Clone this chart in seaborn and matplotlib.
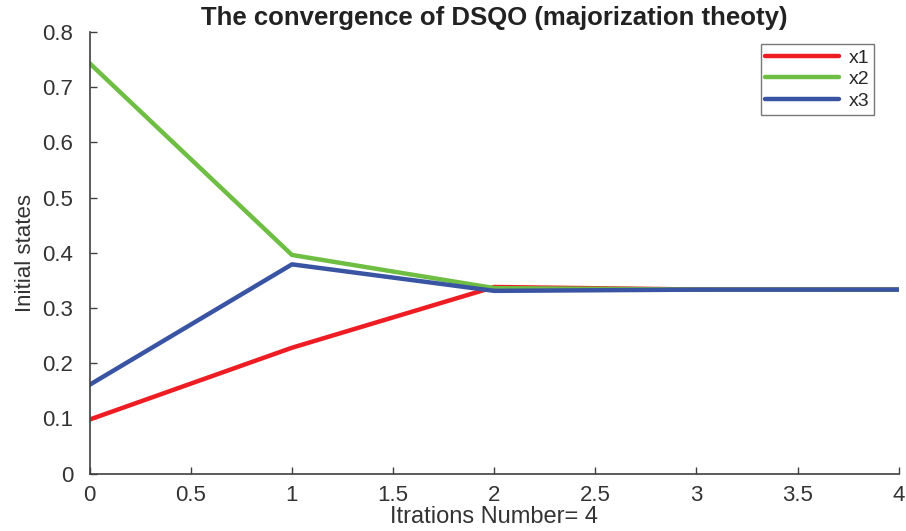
import numpy as np
import pandas as pd
import matplotlib
matplotlib.use('Agg')
import matplotlib.pyplot as plt
import seaborn as sns

# data
iterations = [0, 1, 2, 3, 4]
x1 = [0.098, 0.228, 0.338, 0.3335, 0.3333]
x2 = [0.743, 0.396, 0.336, 0.3333, 0.3333]
x3 = [0.161, 0.379, 0.331, 0.3332, 0.3333]
series_names = ['x1', 'x2', 'x3']
colors = ['#ee1d23', '#6ebe44', '#3a54a4']

df = pd.DataFrame({'iter': iterations, 'x1': x1, 'x2': x2, 'x3': x3})
df = df.melt(id_vars='iter', var_name='series', value_name='value')

sns.set_style('ticks')
plt.rcParams['font.family'] = ['Liberation Sans', 'DejaVu Sans']

fig, ax = plt.subplots(figsize=(9.06, 5.31), dpi=100)
fig.subplots_adjust(left=0.099, right=0.992, top=0.94, bottom=0.108)

sns.lineplot(data=df, x='iter', y='value', hue='series', hue_order=series_names,
             palette=colors, linewidth=3.2, ax=ax)

ax.set_xlim(0, 4)
ax.set_ylim(0, 0.8)
ax.set_xticks(np.arange(0, 4.01, 0.5))
ax.set_xticklabels(['0', '0.5', '1', '1.5', '2', '2.5', '3', '3.5', '4'])
ax.set_yticks(np.arange(0, 0.81, 0.1))
ax.set_yticklabels(['0', '0.1', '0.2', '0.3', '0.4', '0.5', '0.6', '0.7', '0.8'])
ax.tick_params(direction='in', length=5, width=1, colors='#404040',
               labelsize=16, labelcolor='#333333')
ax.tick_params(axis='y', pad=12)
ax.tick_params(axis='x', pad=8)
for s in ['top', 'right']:
    ax.spines[s].set_visible(False)
for s in ['left', 'bottom']:
    ax.spines[s].set_color('#404040')
    ax.spines[s].set_linewidth(1.2)

ax.set_title('The convergence of DSQO (majorization theoty)', fontsize=18.5,
             fontweight='bold', color='#222222', pad=5)
ax.set_xlabel('Itrations Number= 4', fontsize=17, color='#333333', labelpad=0)
ax.set_ylabel('Initial states', fontsize=16, color='#333333', labelpad=4,
              family=['Liberation Sans Narrow', 'Liberation Sans', 'DejaVu Sans'])

leg = ax.legend(loc='upper right', bbox_to_anchor=(0.97, 0.972), fontsize=14,
                frameon=True, fancybox=False, edgecolor='#555555',
                handlelength=3.8, handletextpad=0.5, borderpad=0.25,
                labelspacing=0.2, borderaxespad=0)
leg.get_frame().set_linewidth(1)
for line in leg.get_lines():
    line.set_linewidth(3.2)

fig.savefig('out.png', dpi=100)
